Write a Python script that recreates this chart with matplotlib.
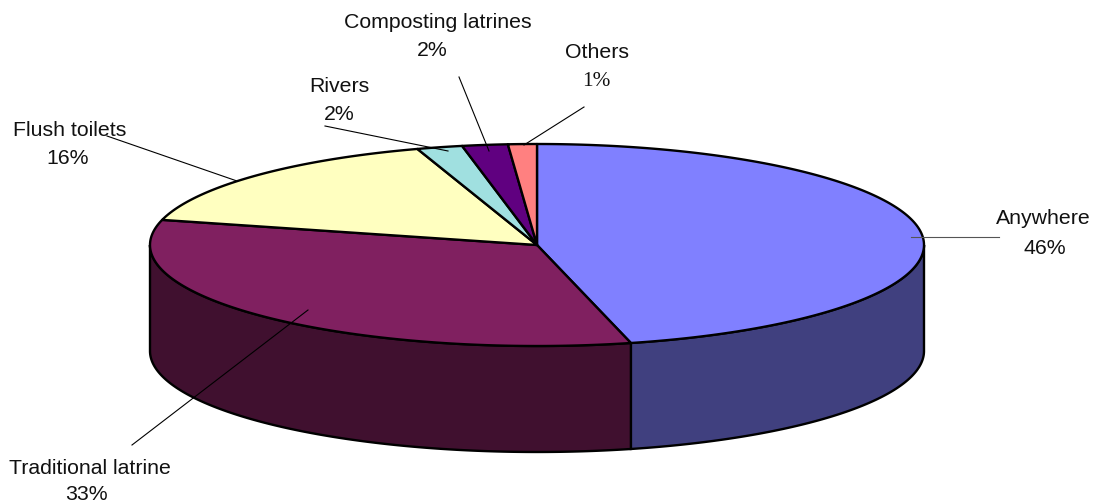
import numpy as np
import matplotlib
matplotlib.use('Agg')
import matplotlib.pyplot as plt

# shares, clockwise from 12 o'clock
categories = ['Anywhere', 'Traditional latrine', 'Flush toilets', 'Rivers', 'Composting latrines', 'Others']
shares = [46.1, 32.9, 16, 1.9, 1.9, 1.2]
pct_labels = ['46%', '33%', '16%', '2%', '2%', '1%']
top_colors = ['#8080FF', '#802060', '#FFFFC0', '#A0E0E0', '#600080', '#FF8080']
side_colors = ['#40407F', '#40102F', '#7F7F60', '#507070', '#300040', '#7F4040']

# pie geometry in image pixels
cx, cy = 537, 245
rx, ry = 387, 101
depth = 106


def rim(a0, a1):
    t = np.radians(np.linspace(a0, a1, max(2, int(abs(a1 - a0) * 4))))
    return cx + rx * np.sin(t), cy - ry * np.cos(t)


fig = plt.figure(figsize=(10.94, 5.04), dpi=100, facecolor='white')
ax = fig.add_axes([0, 0, 1, 1])
ax.set_xlim(0, 1094)
ax.set_ylim(504, 0)
ax.axis('off')

edges = np.concatenate([[0], np.cumsum(shares)]) / np.sum(shares) * 360

# side walls, only the front half of the rim shows
for i in range(len(shares)):
    a0 = max(edges[i], 90)
    a1 = min(edges[i + 1], 270)
    if a1 <= a0:
        continue
    x, y = rim(a0, a1)
    ax.fill(np.r_[x, x[::-1]], np.r_[y, y[::-1] + depth], fc=side_colors[i], ec='black', lw=1.7, zorder=2)

# top face
for i in range(len(shares)):
    x, y = rim(edges[i], edges[i + 1])
    ax.fill(np.r_[cx, x], np.r_[cy, y], fc=top_colors[i], ec='black', lw=1.7, joinstyle='round', zorder=3)

# leader lines
leaders = [
    ((911, 999), (237, 237), '#555555'),
    ((132, 308), (445, 310), 'black'),
    ((107, 237), (136, 181), 'black'),
    ((325, 448), (126, 151), 'black'),
    ((459, 489), (77, 151), 'black'),
    ((584, 524), (107, 145), 'black'),
]
for lx, ly, c in leaders:
    ax.plot(lx, ly, color=c, lw=0.8, zorder=4)

# labels: name position then percent position
label_pos = [
    ((1043, 219), (1045, 248)),
    ((90, 469), (86, 494)),
    ((70, 130), (68, 158)),
    ((339, 87), (339, 114)),
    ((438, 23), (432, 51)),
    ((597, 53), (596, 82)),
]
for name, pct, (p1, p2) in zip(categories, pct_labels, label_pos):
    ax.text(p1[0], p1[1], name, ha='center', va='center', fontsize=15.3, family='Liberation Sans', color='#111111', zorder=5)
    fam = 'Liberation Serif' if name == 'Others' else 'Liberation Sans'
    ax.text(p2[0], p2[1], pct, ha='center', va='center', fontsize=15.3, family=fam, color='#111111', zorder=5)

fig.savefig('out.png', dpi=100, facecolor='white')
